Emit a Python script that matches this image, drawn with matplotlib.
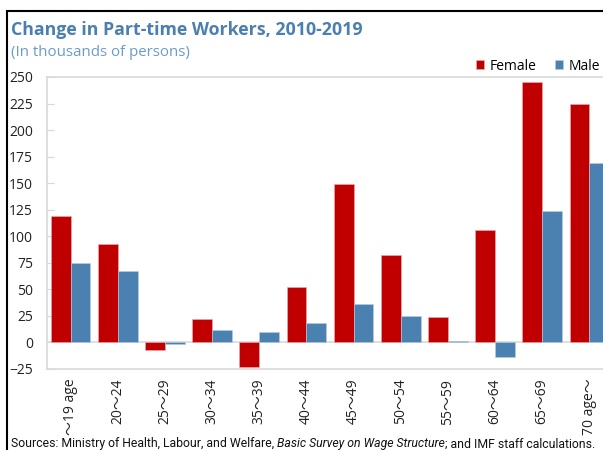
import matplotlib
matplotlib.use("Agg")
import matplotlib.pyplot as plt
import numpy as np
from matplotlib.patches import Rectangle

# data (thousands of persons)
age_groups = ["～19 age", "20～24", "25～29", "30～34", "35～39", "40～44",
              "45～49", "50～54", "55～59", "60～64", "65～69", "70 age～"]
female = [119, 93, -7, 22, -23, 52, 149, 82, 24, 106, 245, 225]
male = [75, 67, -1.5, 12, 10, 18, 36, 25, 1.5, -14, 124, 169]
yticks = [-25, 0, 25, 50, 75, 100, 125, 150, 175, 200, 225, 250]

RED = "#C00000"
BLUE = "#4A81B0"
GRID = "#D9D9D9"
FONTS = ["Open Sans", "Noto Sans CJK JP", "DejaVu Sans"]

plt.rcParams["font.family"] = FONTS

W, H = 603, 450
fig = plt.figure(figsize=(W / 100, H / 100), dpi=100)

# plot area runs off the right edge like the cropped original
ax = fig.add_axes([47 / W, 1 - 369 / H, 566 / W, 292 / H])

x = np.arange(len(age_groups))
bw = 0.42
ax.bar(x - bw / 2, female, bw, color=RED, edgecolor="#E8B0B0", linewidth=0.4,
       label="Female", zorder=2)
ax.bar(x + bw / 2, male, bw, color=BLUE, edgecolor="#B8CCE0", linewidth=0.4,
       label="Male", zorder=2)

ax.set_xlim(-0.5, len(age_groups) - 0.5)
ax.set_ylim(-25, 250)
ax.axhline(0, color=GRID, lw=1.2, zorder=1)

for s in ["left", "top", "bottom"]:
    ax.spines[s].set_color(GRID)
    ax.spines[s].set_linewidth(1.2)
ax.spines["right"].set_visible(False)

ax.set_yticks(yticks)
ax.tick_params(axis="y", direction="in", length=5, color=GRID, pad=10,
               labelsize=10, labelcolor="#222222")
ax.set_xticks(x)
ax.set_xticklabels(age_groups, rotation=90, fontsize=10, color="#222222")
ax.tick_params(axis="x", length=0, pad=7)

fig.text(11 / W, 1 - 30 / H, "Change in Part-time Workers, 2010-2019",
         fontsize=12.8, fontweight="bold", color="#4B7FB0", va="center")
fig.text(11 / W, 1 - 53 / H, "(In thousands of persons)",
         fontsize=10.8, color="#6A9BCB", va="center")

leg = fig.legend(loc="center right", bbox_to_anchor=(600 / W, 1 - 66 / H),
                 ncol=2, frameon=False, fontsize=10, handlelength=0.6,
                 handleheight=0.6, handletextpad=0.4, columnspacing=1.3,
                 borderaxespad=0, borderpad=0)

# sources line with italic survey name, shrunk to fit the width
renderer = fig.canvas.get_renderer()
parts = [("Sources: Ministry of Health, Labour, and Welfare, ", "normal"),
         ("Basic Survey on Wage Structure", "italic"),
         ("; and IMF staff calculations.", "normal")]
size = 9.0
while True:
    texts = []
    xpos = 11
    for txt, style in parts:
        t = fig.text(xpos / W, 1 - 444 / H, txt, fontsize=size, style=style,
                     color="#111111", va="center", family=["Roboto", "DejaVu Sans"])
        xpos += t.get_window_extent(renderer).width
        texts.append(t)
    if xpos <= 600 or size < 6:
        break
    for t in texts:
        t.remove()
    size -= 0.2

# outer frame of the original exhibit
fig.patches.append(Rectangle((6.5 / W, -0.1), 1.2, 1 - 11 / H + 0.1,
                             transform=fig.transFigure, fill=False,
                             edgecolor="black", linewidth=1.5))

fig.savefig("out.png", dpi=100)
